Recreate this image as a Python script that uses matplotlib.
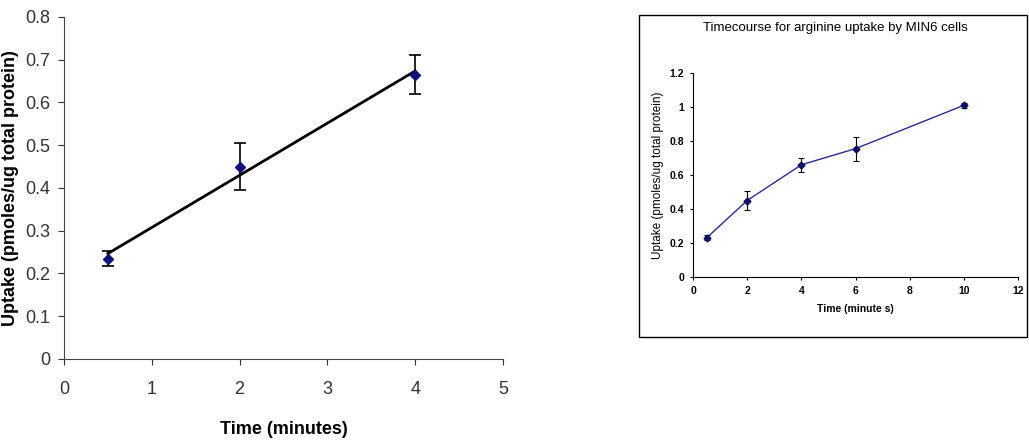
import numpy as np
import matplotlib
matplotlib.use("Agg")
import matplotlib.pyplot as plt
from matplotlib.patches import Rectangle

# Main chart data
main_time = [0.5, 2, 4]
main_uptake = [0.235, 0.45, 0.665]
main_err = [0.017, 0.055, 0.045]

# Inset chart data
inset_time = [0.5, 2, 4, 6, 10]
inset_uptake = [0.23, 0.45, 0.66, 0.755, 1.01]
inset_err = [0.015, 0.055, 0.042, 0.07, 0.015]

main_yticks = [0, 0.1, 0.2, 0.3, 0.4, 0.5, 0.6, 0.7, 0.8]
main_xticks = [0, 1, 2, 3, 4, 5]
inset_yticks = [0, 0.2, 0.4, 0.6, 0.8, 1.0, 1.2]
inset_xticks = [0, 2, 4, 6, 8, 10, 12]

narrow = ['Liberation Sans Narrow', 'Liberation Sans', 'DejaVu Sans']
plt.rcParams['font.family'] = narrow

fig = plt.figure(figsize=(10.29, 4.45), dpi=100)

# ---- main axes
ax = fig.add_axes([0.0622, 0.1933, 0.4266, 0.7685])
ax.errorbar(main_time, main_uptake, yerr=main_err, fmt='D', color='#10107a',
            ecolor='black', elinewidth=1.2, capsize=4, capthick=1.2, markersize=5.5, zorder=3)
coef = np.polyfit(main_time, main_uptake, 1)
xs = np.array([min(main_time), max(main_time)])
ax.plot(xs, np.polyval(coef, xs), color='black', lw=2, zorder=2)
ax.set_xlim(0, 5)
ax.set_ylim(0, 0.8)
ax.set_xticks(main_xticks)
ax.set_yticks(main_yticks)
ax.set_xticklabels([str(t) for t in main_xticks])
ax.set_yticklabels([('%g' % t) for t in main_yticks])
for s in ['top', 'right']:
    ax.spines[s].set_visible(False)
for s in ['left', 'bottom']:
    ax.spines[s].set_color('#444444')
ax.tick_params(direction='out', length=4, colors='#333333', labelsize=13, pad=6)
ax.tick_params(axis='x', pad=12)
ax.set_xlabel('Time (minutes)', fontsize=13, fontweight='bold')
ax.xaxis.set_label_coords(0.5, -0.18)
ax.set_ylabel('Uptake (pmoles/ug total protein)', fontsize=13, fontweight='bold',
              family=['Liberation Sans', 'DejaVu Sans'])
ax.yaxis.set_label_coords(-0.102, 0.5)

# ---- inset frame
fig.patches.append(Rectangle((0.621, 0.2427), 0.377, 0.7233, transform=fig.transFigure,
                             fill=False, edgecolor='black', lw=1.0))

ax2 = fig.add_axes([0.6735, 0.3775, 0.3158, 0.4585])
ax2.errorbar(inset_time, inset_uptake, yerr=inset_err, fmt='-D', color='#2b2b8c',
             ecolor='black', elinewidth=0.8, capsize=2.5, capthick=0.8,
             markersize=3.5, lw=1.0, markerfacecolor='#101060', markeredgecolor='#101060')
ax2.set_xlim(0, 12)
ax2.set_ylim(0, 1.2)
ax2.set_xticks(inset_xticks)
ax2.set_yticks(inset_yticks)
ax2.set_xticklabels([str(t) for t in inset_xticks])
ax2.set_yticklabels([('%g' % t) for t in inset_yticks])
for s in ['top', 'right']:
    ax2.spines[s].set_visible(False)
ax2.tick_params(direction='out', length=2.5, labelsize=7.5, pad=4, width=0.8)
for lbl in ax2.get_xticklabels() + ax2.get_yticklabels():
    lbl.set_fontweight('bold')
ax2.set_xlabel('Time (minute s)', fontsize=7.5, fontweight='bold', labelpad=6)
ax2.set_ylabel('Uptake (pmoles/ug total protein)', fontsize=8.5, labelpad=4)
fig.text(0.8115, 0.938, 'Timecourse for arginine uptake by MIN6 cells', ha='center',
         va='center', fontsize=9.5)

fig.savefig('out.png', dpi=100)
